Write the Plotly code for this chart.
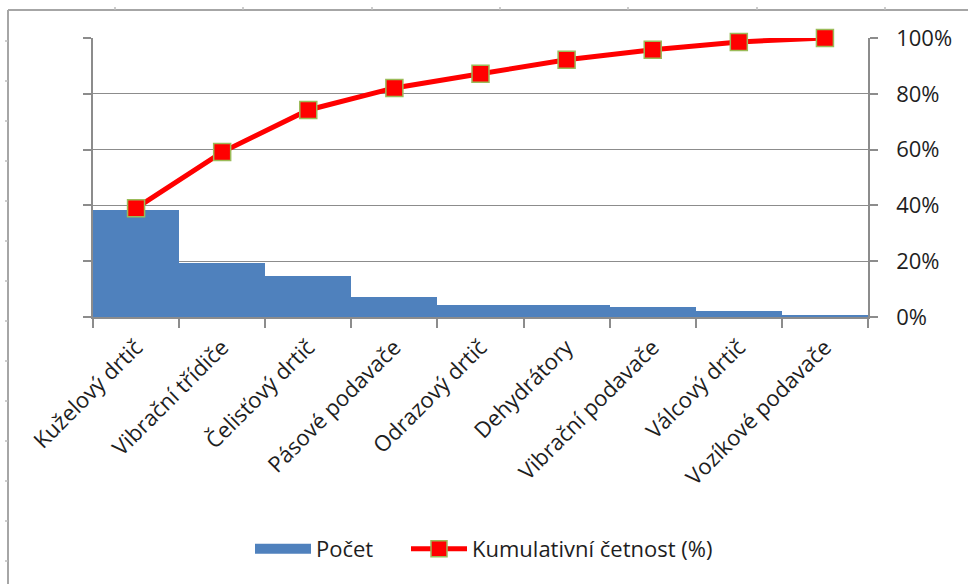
import plotly.graph_objects as go

kategorie = ["Kuželový drtič", "Vibrační třídiče", "Čelisťový drtič", "Pásové podavače",
             "Odrazový drtič", "Dehydrátory", "Vibrační podavače", "Válcový drtič",
             "Vozíkové podavače"]
pocet = [38.2, 19.5, 14.6, 7.3, 4.4, 4.4, 3.7, 2.3, 0.7]
kumulativni = [39.0, 59.1, 74.2, 82.1, 87.2, 92.2, 95.8, 98.6, 100.0]
y_ticks = [0, 20, 40, 60, 80, 100]
y_tick_labels = ["0%", "20%", "40%", "60%", "80%", "100%"]

FONT = "Open Sans"
GRID = "#8c8c8c"
TXT = "#1e1e1e"
BLUE = "#4F81BD"

fig = go.Figure()
fig.add_trace(go.Bar(x=kategorie, y=pocet, name="Počet", showlegend=False,
                     marker=dict(color=BLUE, line=dict(width=0)),
                     yaxis="y"))
# legend swatch for the bars (wide rectangle like the original)
fig.add_trace(go.Scatter(x=[None], y=[None], name="Počet", mode="lines",
                         line=dict(color=BLUE, width=15), yaxis="y", legend="legend"))
fig.add_trace(go.Scatter(x=kategorie, y=kumulativni, name="Kumulativní četnost (%)",
                         mode="lines+markers", cliponaxis=False,
                         line=dict(color="#FF0000", width=5),
                         marker=dict(symbol="square", size=17, color="#FF0000",
                                     line=dict(color="#9BBB59", width=1.5)),
                         yaxis="y2", legend="legend2"))

# plot area geometry (pixels)
L, R, T, B = 93, 100, 38, 267
W, H = 968, 584
pw, ph = W - L - R, H - T - B

def px(x):
    return (x - L) / pw

def py(y):
    return (H - B - y) / ph

shapes = []
frame = dict(color="#a6a6a6", width=2)
shapes.append(dict(type="line", xref="paper", yref="paper",
                   x0=px(8), x1=px(8), y0=py(10), y1=py(590), line=frame))
shapes.append(dict(type="line", xref="paper", yref="paper",
                   x0=px(8), x1=px(975), y0=py(10), y1=py(10), line=frame))
for xt in [115, 243, 372, 500, 628, 757, 885]:
    shapes.append(dict(type="line", xref="paper", yref="paper",
                       x0=px(xt), x1=px(xt), y0=py(7), y1=py(10),
                       line=dict(color="#bdbdbd", width=1.5)))
for yt in [41, 81, 121, 161, 201, 241, 281, 321, 361, 401, 441, 481, 521, 561]:
    shapes.append(dict(type="line", xref="paper", yref="paper",
                       x0=px(5), x1=px(8), y0=py(yt), y1=py(yt),
                       line=dict(color="#bdbdbd", width=1.5)))

leg_common = dict(orientation="h", yanchor="middle", xanchor="left",
                  font=dict(family=FONT, size=22, color=TXT),
                  itemwidth=56, bgcolor="rgba(0,0,0,0)")

fig.update_layout(
    width=W, height=H,
    margin=dict(l=L, r=R, t=T, b=B),
    paper_bgcolor="white", plot_bgcolor="white",
    font=dict(family=FONT, size=21, color=TXT),
    bargap=0,
    showlegend=True,
    legend=dict(x=px(250), y=py(549), **leg_common),
    legend2=dict(x=px(406), y=py(549), **leg_common),
    xaxis=dict(type="category", range=[-0.5, 8.5], tickangle=-45,
               showline=True, linecolor=GRID, linewidth=1.5,
               ticks="outside", ticklen=9, tickcolor=GRID, tickwidth=1.5,
               tickson="boundaries", showgrid=False, ticklabelstandoff=7,
               tickfont=dict(family=FONT, size=22, color=TXT)),
    yaxis=dict(range=[0, 100], tickvals=y_ticks, showticklabels=False,
               showline=True, linecolor=GRID, linewidth=1.5,
               ticks="outside", ticklen=8, tickcolor=GRID, tickwidth=1.5,
               showgrid=True, gridcolor=GRID, gridwidth=1.2, zeroline=False, fixedrange=True),
    yaxis2=dict(range=[0, 100], tickvals=y_ticks, ticktext=y_tick_labels,
                overlaying="y", side="right",
                showline=True, linecolor=GRID, linewidth=1.5,
                ticks="outside", ticklen=8, tickcolor=GRID, tickwidth=1.5,
                showgrid=False, zeroline=False, ticklabelstandoff=14,
                tickfont=dict(family=FONT, size=22, color=TXT)),
    shapes=shapes,
)

fig.write_html("out.html")
